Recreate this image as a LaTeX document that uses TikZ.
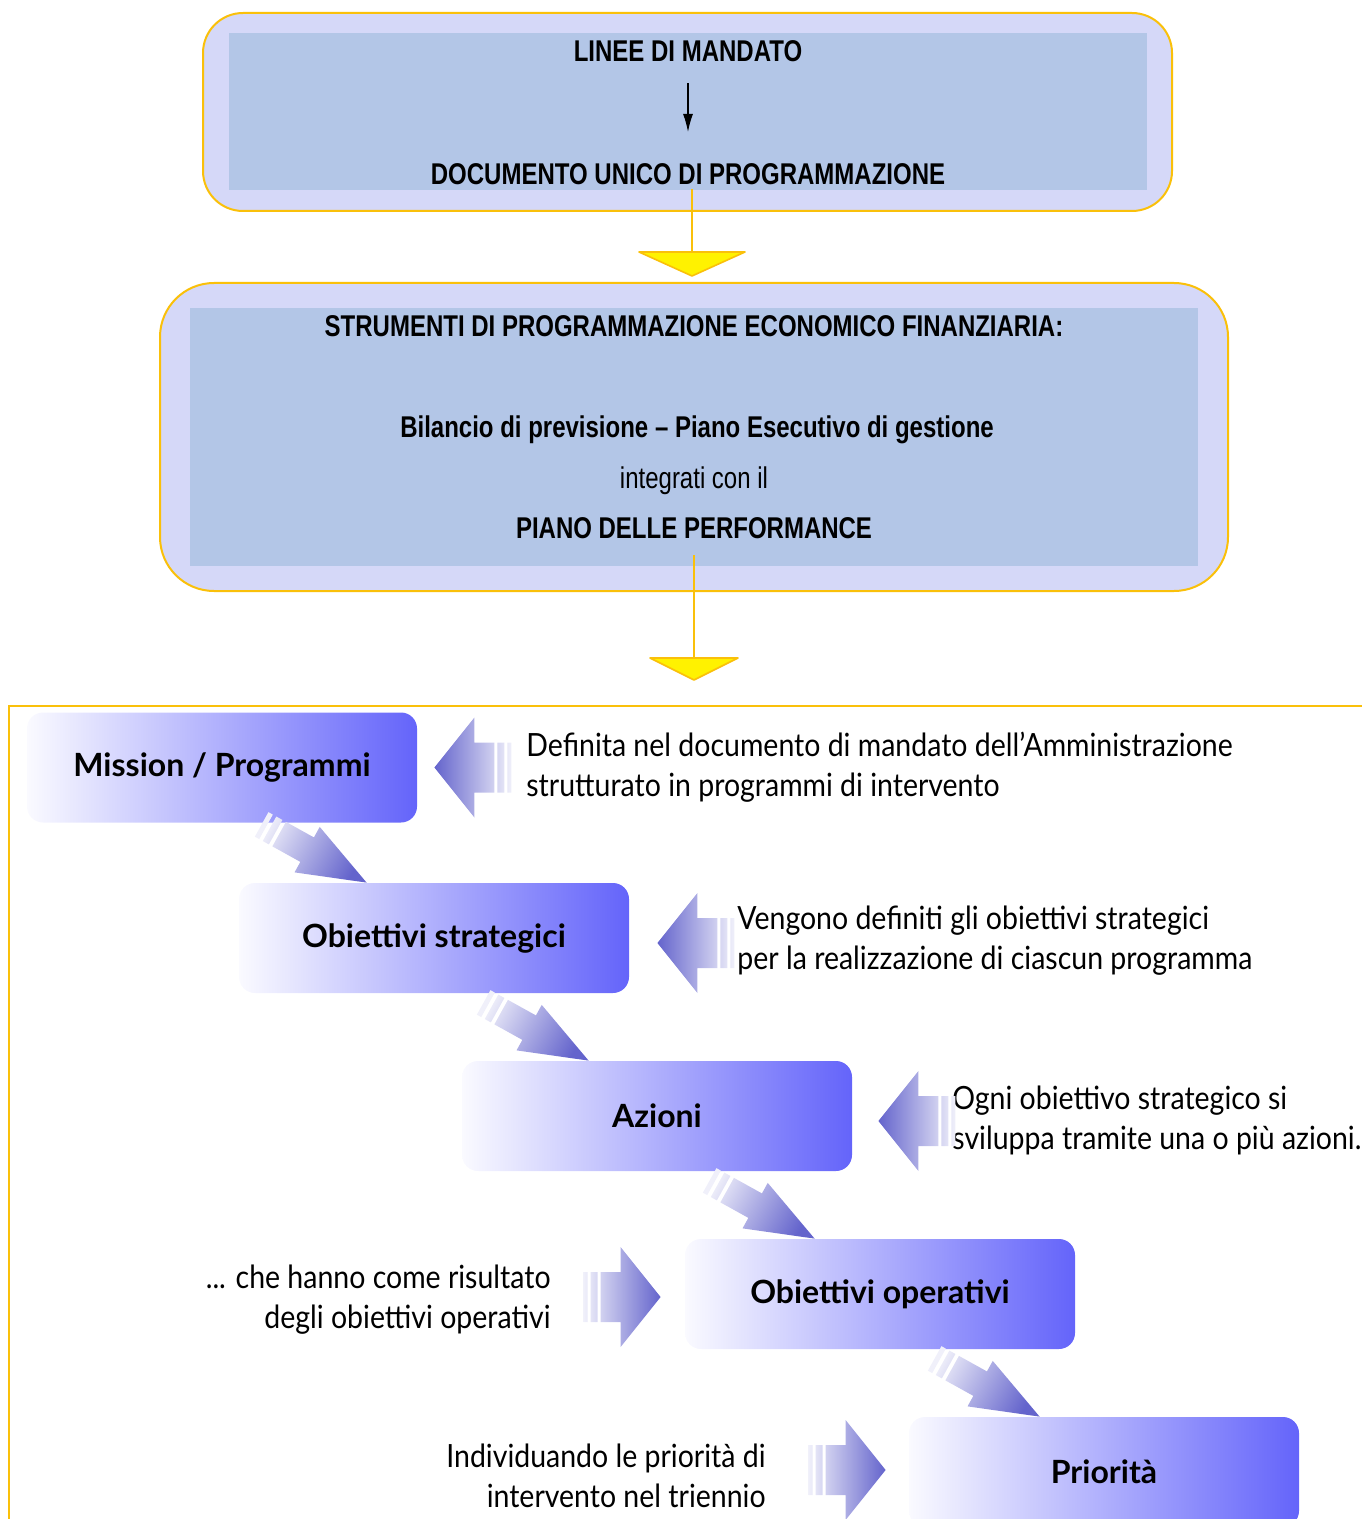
\documentclass[tikz,border=0pt]{standalone}
\usepackage{fontspec}
\newfontfamily\narrowfont{Liberation Sans}[FakeStretch=0.8]
\newfontfamily\gillfont{Lato}
\newfontfamily\gillnarrow{Lato}[FakeStretch=0.89]
\usetikzlibrary{arrows.meta,calc,positioning}

\definecolor{boxlav}{RGB}{213,216,248}
\definecolor{boxblue}{RGB}{179,198,231}
\definecolor{gold}{RGB}{250,192,10}
\definecolor{stepdark}{RGB}{100,100,250}
\definecolor{steplight}{RGB}{250,250,255}
\definecolor{arrdark}{RGB}{100,100,204}
\definecolor{arrlight}{RGB}{240,240,250}

\tikzset{
  toptext/.style={font=\narrowfont\fontsize{15}{18}\selectfont\bfseries, inner sep=2pt},
  stepbox/.style={rounded corners=8pt, left color=steplight, right color=stepdark,
    minimum width=195pt, minimum height=55pt, inner sep=0pt,
    font=\gillfont\fontsize{16}{19}\selectfont\bfseries},
  note/.style={font=\gillnarrow\fontsize{16}{20}\selectfont, inner sep=0pt},
  goldline/.style={draw=gold, line width=1pt},
  goldtri/.style={fill=yellow, draw=gold, line width=0.8pt, line join=round}
}
% block arrow beside a box, tip at #1, #2 = 1 (right) or -1 (left)
\newcommand{\sidearrow}[3]{%
  \begin{scope}[shift={#1}]
    \shade[#3] (0,0) -- ({-1*(#2)*40},-50) -- ({-1*(#2)*40},-25) -- ({-1*(#2)*60},-25)
      -- ({-1*(#2)*60},25) -- ({-1*(#2)*40},25) -- ({-1*(#2)*40},50) -- cycle
      ({-1*(#2)*63},-25) rectangle ({-1*(#2)*70},25)
      ({-1*(#2)*73},-25) rectangle ({-1*(#2)*77},25);
  \end{scope}}
% slanted arrow from one step to the next, tip at #1
\newcommand{\steparrow}[1]{%
  \begin{scope}[shift={#1}, rotate=-29]
    \shade[top color=arrlight, bottom color=arrdark, shading angle=61]
      (0,0) -- (-68,-26) -- (-68,-14) -- (-100,-14) -- (-100,14) -- (-68,14) -- (-68,26) -- cycle
      (-104,-14) rectangle (-111,14)
      (-115,-14) rectangle (-120,14);
  \end{scope}}

\begin{document}
\begin{tikzpicture}[x=0.5pt,y=-0.5pt]
\useasboundingbox (0,0) rectangle (1362,1519);

% top block
\draw[goldline, fill=boxlav, rounded corners=20pt] (203,13) rectangle (1172,211);
\fill[boxblue] (229,33) rectangle (1147,190);
\node[toptext] (linee) at (688,51) {LINEE DI MANDATO};
\node[toptext] (dup) at (688,174) {DOCUMENTO UNICO DI PROGRAMMAZIONE};
\draw[-{Latex[length=9pt,width=5pt]}, line width=0.6pt, shorten <=8.5pt, shorten >=13.5pt]
  (linee.south) -- (linee.south |- dup.north);

\coordinate (tri1) at (692,252);
\draw[goldline] (tri1 |- dup.south) -- (tri1);
\draw[goldtri] (tri1) ++(-53,0) -- ++(106,0) -- ++(-53,24) -- cycle;

% second block
\draw[goldline, fill=boxlav, rounded corners=27pt] (160,283) rectangle (1228,591);
\fill[boxblue] (190,308) rectangle (1198,566);
\node[toptext] (strum) at (694,326) {STRUMENTI DI PROGRAMMAZIONE ECONOMICO FINANZIARIA:};
\node[toptext] (bilancio) at (697,430) {Bilancio di previsione – Piano Esecutivo di gestione};
\node[toptext, font=\narrowfont\fontsize{15}{18}\selectfont] (integ) at (694,481) {integrati con il};
\node[toptext] (piano) at (694,528) {PIANO DELLE PERFORMANCE};

\coordinate (tri2) at (694,658);
\draw[goldline, shorten <=6pt] (tri2 |- piano.south) -- (tri2);
\draw[goldtri] (tri2) ++(-44,0) -- ++(88,0) -- ++(-44,22) -- cycle;

% frame
\draw[goldline] (9,1519) -- (9,706) -- (1362,706);

% steps
\node[stepbox] (mission) at (222,767.5) {Mission / Programmi};
\node[stepbox] (strateg) at (434,938) {Obiettivi strategici};
\node[stepbox] (azioni) at (657,1116) {Azioni};
\node[stepbox] (operat) at (880,1294) {Obiettivi operativi};
\node[stepbox] (priorita) at (1104,1472) {Priorità};

\steparrow{($(strateg.north west)+(128,0)$)}
\steparrow{($(azioni.north west)+(127,0)$)}
\steparrow{($(operat.north west)+(130,0)$)}
\steparrow{($(priorita.north west)+(131,0)$)}

% notes
\node[note, anchor=west, align=left] (t1) at (526,767)
  {Definita nel documento di mandato dell’Amministrazione\\strutturato in programmi di intervento};
\node[note, anchor=west, align=left] (t2) at (737,941)
  {Vengono definiti gli obiettivi strategici\\per la realizzazione di ciascun programma};
\node[note, anchor=west, align=left] (t3) at (952,1120)
  {Ogni obiettivo strategico si\\sviluppa tramite una o più azioni.};
\node[note, anchor=east, align=right] (t4) at (551,1300)
  {... che hanno come risultato\\degli obiettivi operativi};
\node[note, anchor=east, align=right] (t5) at (766,1476)
  {Individuando le priorità di\\intervento nel triennio};

\sidearrow{($(mission.east)+(17,0)$)}{-1}{left color=arrdark, right color=arrlight}
\sidearrow{($(strateg.east)+(28,5)$)}{-1}{left color=arrdark, right color=arrlight}
\sidearrow{($(azioni.east)+(26,5)$)}{-1}{left color=arrdark, right color=arrlight}
\sidearrow{($(operat.west)+(-24,3)$)}{1}{left color=arrlight, right color=arrdark}
\sidearrow{($(priorita.west)+(-23,-2)$)}{1}{left color=arrlight, right color=arrdark}
\end{tikzpicture}
\end{document}
